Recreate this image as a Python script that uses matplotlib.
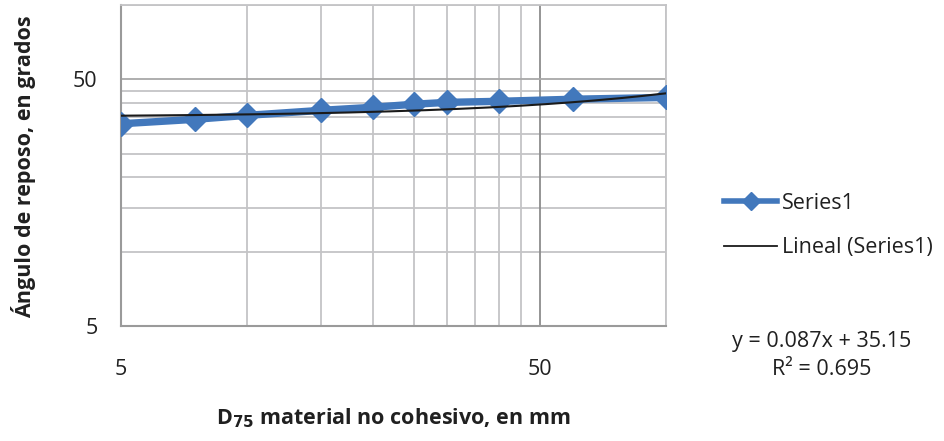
import numpy as np
import matplotlib
matplotlib.use('Agg')
import matplotlib.pyplot as plt
from matplotlib.lines import Line2D

# data
d75 = [5, 7.5, 10, 15, 20, 25, 30, 40, 60, 100]
angle = [33.0, 34.4, 35.7, 37.4, 38.5, 39.6, 40.3, 40.7, 41.5, 42.2]
slope, intercept = 0.087, 35.15
r2 = 0.695

x_grid = [10, 15, 20, 25, 30, 35, 40, 45, 100]
y_grid = [10, 15, 20, 25, 30, 35, 40, 45, 100]
major_ticks = [5, 50]

plt.rcParams['font.family'] = ['Open Sans', 'DejaVu Sans']
blue = '#4278BC'
grid_c = '#C4C4C6'
txt_c = '#202020'

fig = plt.figure(figsize=(9.44, 4.41), dpi=100)
ax = fig.add_axes([0.1282, 0.2608, 0.5773, 0.7279])
ax.set_xscale('log')
ax.set_yscale('log')
ax.set_xlim(5, 100)
ax.set_ylim(5, 100)

for v in x_grid:
    ax.axvline(v, color=grid_c, lw=1.3, zorder=1)
for v in y_grid:
    ax.axhline(v, color=grid_c, lw=1.3, zorder=1)
ax.axvline(50, color='#8C8C8C', lw=1.3, zorder=1)
ax.axhline(50, color='#A8A8A8', lw=1.3, zorder=1)

ax.plot(d75, angle, color=blue, lw=5.3, marker='D', ms=12, zorder=3,
        label='Series1')
xt = np.geomspace(d75[0], d75[-1], 200)
ax.plot(xt, slope * xt + intercept, color='#1A1A1A', lw=1.5, zorder=4,
        label='Lineal (Series1)')

ax.xaxis.set_major_locator(matplotlib.ticker.FixedLocator(major_ticks))
ax.yaxis.set_major_locator(matplotlib.ticker.FixedLocator(major_ticks))
ax.xaxis.set_minor_locator(matplotlib.ticker.NullLocator())
ax.yaxis.set_minor_locator(matplotlib.ticker.NullLocator())
ax.xaxis.set_major_formatter(matplotlib.ticker.FormatStrFormatter('%g'))
ax.yaxis.set_major_formatter(matplotlib.ticker.FormatStrFormatter('%g'))
ax.tick_params(axis='x', length=0, pad=24, labelsize=15.5, labelcolor=txt_c)
ax.tick_params(axis='y', length=0, pad=17, labelsize=15.5, labelcolor=txt_c)

for s in ['top', 'right']:
    ax.spines[s].set_color(grid_c)
    ax.spines[s].set_linewidth(1.3)
for s in ['left', 'bottom']:
    ax.spines[s].set_color('#9A9A9A')
    ax.spines[s].set_linewidth(1.5)

fig.text(0.417, 0.052, r'D$_{\mathbf{75}}$ material no cohesivo, en mm',
         ha='center', va='center', fontsize=15.5, fontweight='bold', color=txt_c)
fig.text(0.025, 0.621, 'Ángulo de reposo, en grados', rotation=90,
         ha='center', va='center', fontsize=15.5, fontweight='bold', color=txt_c)

handles = [Line2D([], [], color=blue, lw=4, marker='D', ms=9),
           Line2D([], [], color='#1A1A1A', lw=1.3)]
leg = fig.legend(handles, ['Series1', 'Lineal (Series1)'], loc='center left',
                 bbox_to_anchor=(0.746, 0.489), frameon=False, fontsize=15.5,
                 handlelength=2.5, handletextpad=0.2, labelspacing=1.09)
for t in leg.get_texts():
    t.set_color(txt_c)

fig.text(0.87, 0.193, 'y = 0.087x + 35.15\nR² = 0.695', ha='center',
         va='center', fontsize=15.5, linespacing=1.45, color=txt_c)

fig.savefig('out.png', dpi=100)
